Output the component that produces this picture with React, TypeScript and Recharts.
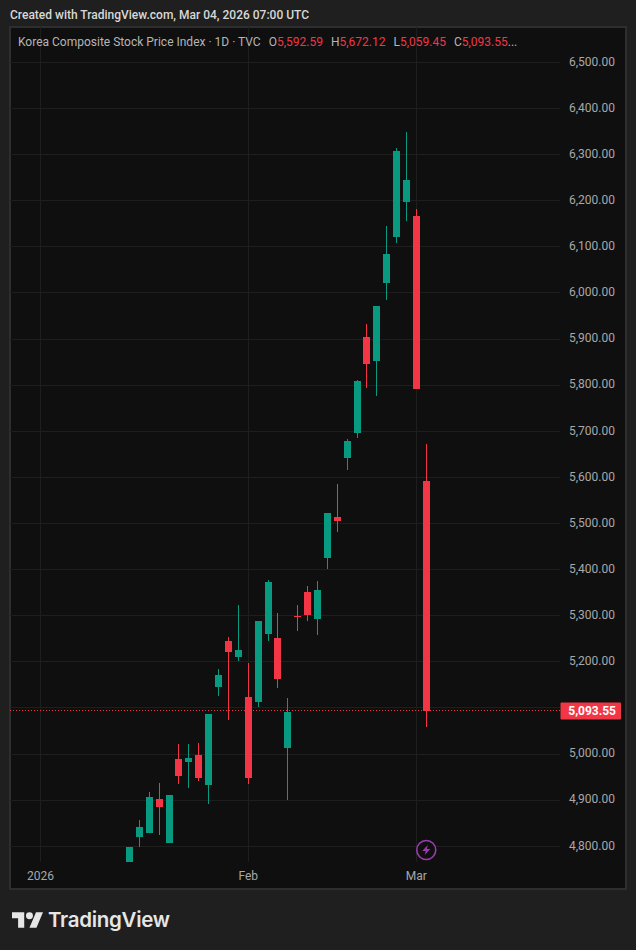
import { Bar, CartesianGrid, ComposedChart, ReferenceDot, ReferenceLine, XAxis, YAxis } from "recharts";

const sessions = [
  "Jan 15", "Jan 16", "Jan 19", "Jan 20", "Jan 21", "Jan 22", "Jan 23", "Jan 26", "Jan 27", "Jan 28", "Jan 29",
  "Jan 30", "Feb 02", "Feb 03", "Feb 04", "Feb 05", "Feb 06", "Feb 09", "Feb 10", "Feb 11", "Feb 12", "Feb 13",
  "Feb 19", "Feb 20", "Feb 23", "Feb 24", "Feb 25", "Feb 26", "Feb 27", "Mar 03", "Mar 04",
];
const opens = [
  4740, 4820, 4829, 4903, 4807, 4989, 4983, 4998, 4933, 5146, 5245,
  5211, 5124, 5113, 5260, 5252, 5013, 5299, 5352, 5293, 5425, 5514,
  5642, 5697, 5904, 5852, 6022, 6121, 6197, 6167, 5592.59,
];
const highs = [
  4799, 4857, 4918, 4937, 4911, 5022, 5022, 5024, 5087, 5185, 5254,
  5323, 5198, 5289, 5377, 5306, 5122, 5323, 5365, 5375, 5523, 5586,
  5683, 5811, 5933, 5972, 6145, 6314, 6349, 6182, 5672.12,
];
const lows = [
  4730, 4799, 4829, 4825, 4807, 4935, 4927, 4942, 4892, 5126, 5074,
  5202, 4935, 5102, 5245, 5143, 4900, 5267, 5289, 5258, 5401, 5482,
  5616, 5685, 5794, 5776, 5985, 6108, 6156, 5792, 5059.45,
];
const closes = [
  4799, 4842, 4907, 4885, 4911, 4953, 4992, 4948, 5087, 5172, 5221,
  5226, 4948, 5289, 5373, 5163, 5091, 5297, 5302, 5356, 5523, 5505,
  5679, 5809, 5846, 5972, 6084, 6308, 6245, 5792, 5093.55,
];
const priceTicks = [
  4800, 4900, 5000, 5100, 5200, 5300, 5400, 5500, 5600, 5700, 5800, 5900, 6000, 6100, 6200, 6300, 6400, 6500,
];
const timeTicks = [-9, 12, 29];
const timeLabels = ["2026", "Feb", "Mar"];
const lastClose = 5093.55;

const UP = "#089981";
const DOWN = "#F23645";
const AXIS_TEXT = "#a8a8a8";
const GRID = "#1e1e1e";
const FONT = "Roboto, sans-serif";

const rows = sessions.map((date, i) => ({
  date,
  session: i,
  wick: [lows[i], highs[i]],
  body: [Math.min(opens[i], closes[i]), Math.max(opens[i], closes[i])],
}));

const xDomain = [-12.084, 43.52];
const yDomain = [4766, 6576.5];

const money = (v: number) => v.toLocaleString("en-US", { minimumFractionDigits: 2 });

// recharts floors the offset inside the band, which moves bars 0.44px left here
const BAND_NUDGE = 0.44;

// snaps a candle part to whole pixels so it stays sharp like the original
function CandlePart({ x, y, width, height, index, size }: any) {
  const center = Math.floor(x + width / 2 + BAND_NUDGE);
  return (
    <rect
      x={center - (size - 1) / 2}
      y={y}
      width={size}
      height={Math.max(height, 1)}
      fill={closes[index] >= opens[index] ? UP : DOWN}
      shapeRendering="crispEdges"
    />
  );
}

function PriceTag({ viewBox }: any) {
  const right = viewBox.x + viewBox.width;
  const mid = viewBox.y;
  return (
    <g>
      <rect x={right + 0.5} y={mid - 8.5} width={60.5} height={17} rx={1} fill={DOWN} />
      <text x={right + 56} y={mid + 4} textAnchor="end" fontFamily={FONT} fontSize={12} fontWeight={700} fill="#ffffff">
        {money(lastClose)}
      </text>
    </g>
  );
}

function BoltMark({ cx, cy }: any) {
  return (
    <g transform={`translate(${cx},${cy})`}>
      <circle r={9.5} fill="#0f0f0f" stroke="#9c3bb0" strokeWidth={1.6} />
      <path d="M1.5 -5 L-4 1 L-0.6 1 L-1.5 5 L4 -1 L0.6 -1 Z" fill="#9c3bb0" />
    </g>
  );
}

function Logo() {
  return (
    <svg width={31} height={16} viewBox="0 4 35.5 18" style={{ position: "absolute", left: 12, top: 912 }}>
      <path d="M14 22H7V11H0V4h14v18zM28 22h-8l7.5-18h8L28 22z" fill="#e6e6e6" />
      <circle cx={20} cy={8} r={4} fill="#e6e6e6" />
    </svg>
  );
}

export default function App() {
  return (
    <div style={{ position: "absolute", left: 0, top: 0, width: 636, height: 950, background: "#1f1f1f", overflow: "hidden", fontFamily: FONT }}>
      <style>
        {"body{margin:0;background:#1f1f1f} .recharts-reference-line line,.recharts-cartesian-grid line{shape-rendering:crispEdges}"}
      </style>
      <div style={{ position: "absolute", left: 9, top: 26, width: 618, height: 864, boxSizing: "border-box", border: "2px solid #2e2e2e", background: "#0f0f0f" }} />
      <div style={{ position: "absolute", left: 0 }}>
        <ComposedChart
          width={636}
          height={950}
          data={rows}
          margin={{ top: 27, right: 11, bottom: 61, left: 10 }}
        >
          <CartesianGrid stroke={GRID} strokeWidth={1} syncWithTicks />
          <XAxis
            dataKey="session"
            type="number"
            scale="linear"
            domain={xDomain}
            ticks={timeTicks}
            height={27}
            axisLine={false}
            tickLine={false}
            interval={0}
            allowDataOverflow
            tickMargin={3}
            tick={{ fill: AXIS_TEXT, fontSize: 12, fontFamily: FONT }}
            tickFormatter={(v: number) => timeLabels[timeTicks.indexOf(v)]}
          />
          <XAxis xAxisId="wick" dataKey="session" type="number" scale="linear" domain={xDomain} allowDataOverflow hide />
          <YAxis
            orientation="right"
            type="number"
            domain={yDomain}
            ticks={priceTicks}
            width={65}
            axisLine={false}
            tickLine={false}
            interval={0}
            allowDataOverflow
            tickMargin={0}
            tick={{ fill: AXIS_TEXT, fontSize: 12, fontFamily: FONT, dx: 3, dy: -1 }}
            tickFormatter={(v: number) => (v === 5100 ? "" : money(v))}
          />
          <ReferenceLine
            y={lastClose}
            stroke={DOWN}
            strokeDasharray="1 2"
            strokeWidth={1}
            label={<PriceTag />}
          />
          <Bar dataKey="wick" xAxisId="wick" barSize={1} isAnimationActive={false} shape={<CandlePart size={1} />} />
          <Bar dataKey="body" barSize={7} isAnimationActive={false} shape={<CandlePart size={7} />} />
          <ReferenceDot x={30} y={4792} r={10} shape={<BoltMark />} />
        </ComposedChart>
      </div>
      <div style={{ position: "absolute", left: 10, top: 8, fontSize: 12, fontWeight: 500, color: "#d8d8d8", whiteSpace: "nowrap" }}>
        Created with TradingView.com, Mar 04, 2026 07:00 UTC
      </div>
      <div style={{ position: "absolute", left: 18, top: 35, fontSize: 12, color: "#b5b5b5", whiteSpace: "pre" }}>
        <span>Korea Composite Stock Price Index · 1D · TVC</span>
        <span style={{ marginLeft: 8 }}>O</span>
        <span style={{ color: DOWN }}>5,592.59</span>
        <span style={{ marginLeft: 8 }}>H</span>
        <span style={{ color: DOWN }}>5,672.12</span>
        <span style={{ marginLeft: 8 }}>L</span>
        <span style={{ color: DOWN }}>5,059.45</span>
        <span style={{ marginLeft: 8 }}>C</span>
        <span style={{ color: DOWN }}>5,093.55</span>
        <span>...</span>
      </div>
      <Logo />
      <div style={{ position: "absolute", left: 48, top: 907, fontFamily: "Inter, sans-serif", fontSize: 20.5, fontWeight: 600, color: "#e6e6e6", letterSpacing: -0.3 }}>
        TradingView
      </div>
    </div>
  );
}
